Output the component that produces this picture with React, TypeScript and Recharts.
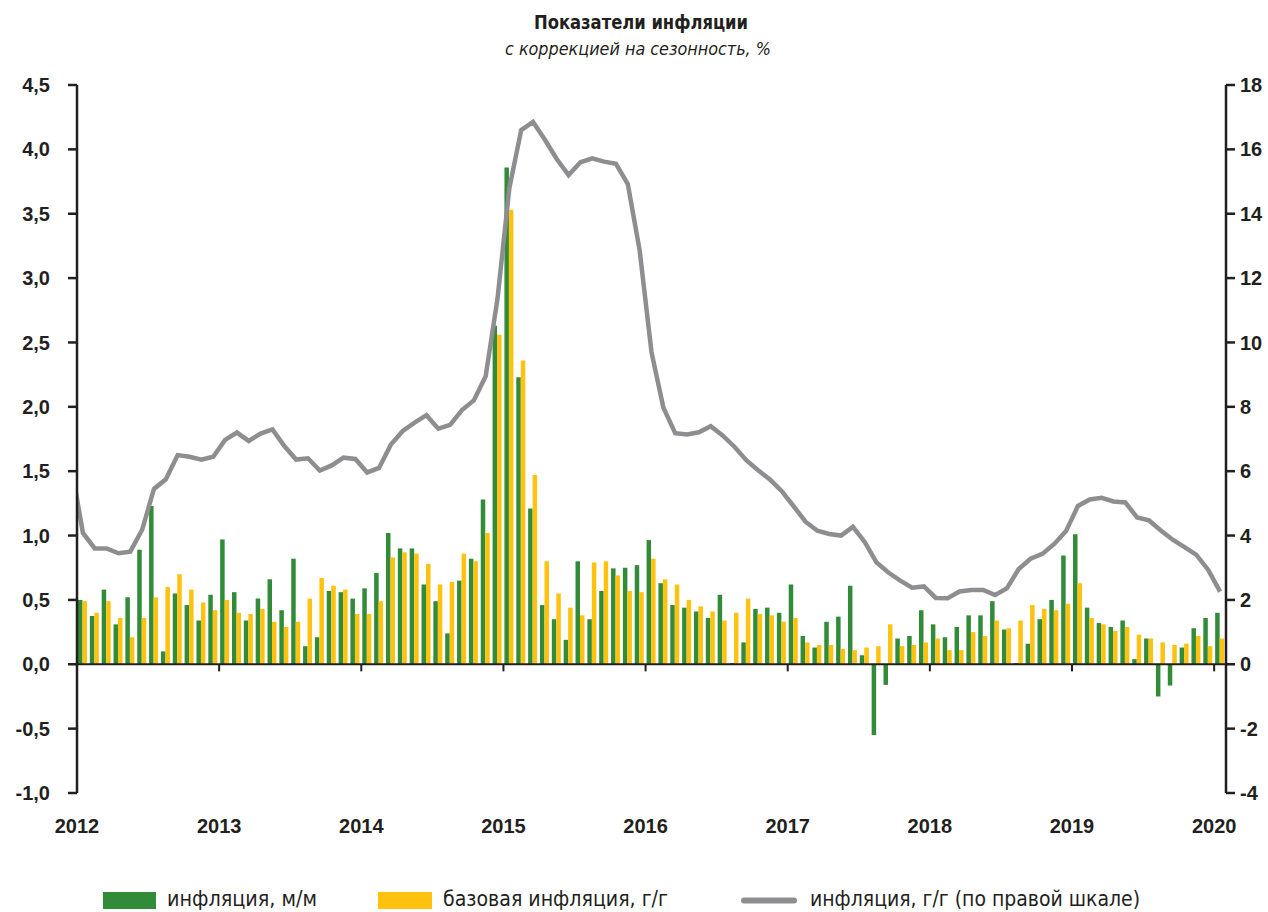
import React from 'react'
import { ComposedChart, Bar, Line, XAxis, YAxis, ReferenceLine } from 'recharts'

// Jan 2012 .. Jan 2020, monthly
const YEARS = [2012, 2013, 2014, 2015, 2016, 2017, 2018, 2019, 2020]

// инфляция, м/м (левая шкала)
const INFL_MM = [
  0.5, 0.375, 0.58, 0.31, 0.52, 0.89, 1.23, 0.1, 0.55, 0.46, 0.34, 0.54,
  0.97, 0.56, 0.34, 0.51, 0.66, 0.42, 0.82, 0.14, 0.21, 0.57, 0.56, 0.51,
  0.59, 0.71, 1.02, 0.9, 0.9, 0.62, 0.49, 0.24, 0.65, 0.82, 1.28, 2.63,
  3.86, 2.23, 1.21, 0.46, 0.35, 0.19, 0.8, 0.35, 0.57, 0.745, 0.75, 0.77,
  0.965, 0.63, 0.46, 0.44, 0.41, 0.36, 0.54, 0.01, 0.17, 0.43, 0.44, 0.4,
  0.62, 0.22, 0.13, 0.33, 0.37, 0.61, 0.07, -0.55, -0.16, 0.2, 0.22, 0.42,
  0.31, 0.21, 0.29, 0.38, 0.38, 0.49, 0.27, 0.01, 0.16, 0.35, 0.5, 0.845,
  1.01, 0.44, 0.32, 0.29, 0.34, 0.04, 0.2, -0.25, -0.165, 0.13, 0.28, 0.36,
  0.4,
]

// базовая инфляция (левая шкала)
const CORE = [
  0.49, 0.4, 0.49, 0.36, 0.21, 0.36, 0.52, 0.6, 0.7, 0.58, 0.48, 0.42,
  0.5, 0.4, 0.39, 0.43, 0.33, 0.29, 0.33, 0.51, 0.67, 0.61, 0.58, 0.39,
  0.39, 0.49, 0.83, 0.87, 0.86, 0.78, 0.62, 0.64, 0.86, 0.8, 1.02, 2.56,
  3.53, 2.36, 1.47, 0.8, 0.55, 0.44, 0.38, 0.79, 0.8, 0.69, 0.57, 0.56,
  0.82, 0.66, 0.62, 0.5, 0.45, 0.41, 0.34, 0.4, 0.51, 0.39, 0.38, 0.33,
  0.36, 0.17, 0.15, 0.15, 0.12, 0.11, 0.13, 0.14, 0.31, 0.14, 0.15, 0.17,
  0.2, 0.11, 0.11, 0.25, 0.22, 0.34, 0.28, 0.34, 0.46, 0.43, 0.42, 0.47,
  0.63, 0.36, 0.31, 0.26, 0.29, 0.23, 0.2, 0.17, 0.15, 0.16, 0.22, 0.14,
  0.2,
]

// инфляция, г/г (правая шкала), starts with Dec 2011 (clipped at the axis)
const INFL_YY = [
  6.2,
  4.08, 3.6, 3.6, 3.45, 3.5, 4.18, 5.45, 5.75, 6.5, 6.45, 6.36, 6.45,
  6.97, 7.2, 6.94, 7.17, 7.3, 6.78, 6.36, 6.4, 6.02, 6.18, 6.42, 6.38,
  5.96, 6.1, 6.83, 7.25, 7.51, 7.74, 7.32, 7.44, 7.9, 8.2, 8.95, 11.36,
  14.8, 16.6, 16.85, 16.3, 15.7, 15.2, 15.6, 15.72, 15.62, 15.55, 14.92, 12.86,
  9.7, 7.98, 7.18, 7.14, 7.21, 7.4, 7.11, 6.76, 6.34, 6.03, 5.74, 5.38,
  4.91, 4.43, 4.15, 4.05, 4.0, 4.27, 3.8, 3.16, 2.85, 2.6, 2.38, 2.42,
  2.06, 2.05, 2.26, 2.31, 2.31, 2.15, 2.36, 2.96, 3.28, 3.43, 3.74, 4.14,
  4.92, 5.12, 5.17, 5.06, 5.03, 4.56, 4.47, 4.16, 3.87, 3.64, 3.4, 2.93,
  2.26,
]

const LEFT_TICKS = [-1, -0.5, 0, 0.5, 1, 1.5, 2, 2.5, 3, 3.5, 4, 4.5]
const RIGHT_TICKS = [-4, -2, 0, 2, 4, 6, 8, 10, 12, 14, 16, 18]
const YEAR_TICKS = YEARS.map((_, i) => i * 12)

const MONTHS = YEARS.flatMap((y) =>
  y === 2020 ? [`${y}-1`] : Array.from({ length: 12 }, (_, m) => `${y}-${m + 1}`)
)

const barData = MONTHS.map((m, i) => ({ m, mm: INFL_MM[i], core: CORE[i] }))
const lineData = INFL_YY.map((v, i) => ({ x: i - 0.5, yy: v }))

const GREEN = '#318b38'
const YELLOW = '#ffc20f'
const GREY = '#8e8e91'
const INK = '#231f20'
const AXIS_FONT = "'Liberation Sans', Arial, sans-serif"
const NARROW = "'Liberation Sans Narrow', 'DejaVu Sans Condensed', 'Liberation Sans', sans-serif"

const tickStyle = { fill: INK, fontSize: 20, fontWeight: 700, fontFamily: AXIS_FONT }
const fmtLeft = (v: number) => v.toFixed(1).replace('.', ',')

export default function App() {
  return (
    <div style={{ position: 'absolute', left: 0, top: 0, width: 1268, height: 912, background: '#fff' }}>
      <ComposedChart
        width={1268}
        height={912}
        data={barData}
        margin={{ top: 85, right: 0, bottom: 79, left: 0 }}
        barGap={0}
        barCategoryGap={0}
      >
        <XAxis
          xAxisId="num"
          dataKey="x"
          type="number"
          domain={[0, 97]}
          allowDataOverflow
          ticks={YEAR_TICKS}
          interval={0}
          tickFormatter={(v: number) => String(2012 + v / 12)}
          axisLine={false}
          tickLine={false}
          tickSize={6}
          tickMargin={20}
          height={40}
          tick={tickStyle}
        />
        <XAxis xAxisId="cat" dataKey="m" hide height={0} />
        <YAxis
          yAxisId="left"
          domain={[-1, 4.5]}
          ticks={LEFT_TICKS}
          interval={0}
          width={77}
          tickFormatter={fmtLeft}
          axisLine={{ stroke: INK, strokeWidth: 2.5 }}
          tickLine={{ stroke: INK, strokeWidth: 2.5 }}
          tickSize={9}
          tickMargin={18}
          tick={tickStyle}
        />
        <YAxis
          yAxisId="right"
          orientation="right"
          domain={[-4, 18]}
          ticks={RIGHT_TICKS}
          interval={0}
          width={42}
          axisLine={{ stroke: INK, strokeWidth: 2.5 }}
          tickLine={{ stroke: INK, strokeWidth: 2.5 }}
          tickSize={9}
          tickMargin={5}
          tick={{ ...tickStyle, textAnchor: 'start' }}
        />
        <Bar xAxisId="cat" yAxisId="left" dataKey="mm" fill={GREEN} barSize={4.5} isAnimationActive={false} />
        <Bar xAxisId="cat" yAxisId="left" dataKey="core" fill={YELLOW} barSize={4.5} isAnimationActive={false} />
        <ReferenceLine xAxisId="num" yAxisId="left" y={0} stroke={INK} strokeWidth={2} />
        {YEAR_TICKS.slice(1).map((t) => (
          <ReferenceLine
            key={t}
            xAxisId="num"
            yAxisId="left"
            segment={[{ x: t, y: 0 }, { x: t, y: -0.055 }]}
            stroke={INK}
            strokeWidth={2}
          />
        ))}
        <Line
          xAxisId="num"
          yAxisId="right"
          data={lineData}
          dataKey="yy"
          type="linear"
          stroke={GREY}
          strokeWidth={4.5}
          dot={false}
          activeDot={false}
          isAnimationActive={false}
        />
      </ComposedChart>

      <svg width={1268} height={912} style={{ position: 'absolute', left: 0, top: 0, pointerEvents: 'none' }}>
        <text x={641} y={29} textAnchor="middle" fontSize={20} fontWeight={700} fill={INK}
          fontFamily={NARROW} textLength={214} lengthAdjust="spacingAndGlyphs">
          Показатели инфляции
        </text>
        <text x={638} y={55} textAnchor="middle" fontSize={18} fontStyle="italic" fill={INK}
          fontFamily={NARROW} textLength={266} lengthAdjust="spacingAndGlyphs">
          с коррекцией на сезонность, %
        </text>

        <rect x={103} y={892} width={53} height={17} fill={GREEN} />
        <text x={167} y={906} fontSize={21} fill={INK} fontFamily={NARROW} textLength={150} lengthAdjust="spacingAndGlyphs">
          инфляция, м/м
        </text>
        <rect x={378} y={892} width={54} height={17} fill={YELLOW} />
        <text x={443} y={906} fontSize={21} fill={INK} fontFamily={NARROW} textLength={225} lengthAdjust="spacingAndGlyphs">
          базовая инфляция, г/г
        </text>
        <line x1={744} y1={900.5} x2={794} y2={900.5} stroke={GREY} strokeWidth={6} strokeLinecap="round" />
        <text x={810} y={906} fontSize={21} fill={INK} fontFamily={NARROW} textLength={330} lengthAdjust="spacingAndGlyphs">
          инфляция, г/г (по правой шкале)
        </text>
      </svg>
    </div>
  )
}
